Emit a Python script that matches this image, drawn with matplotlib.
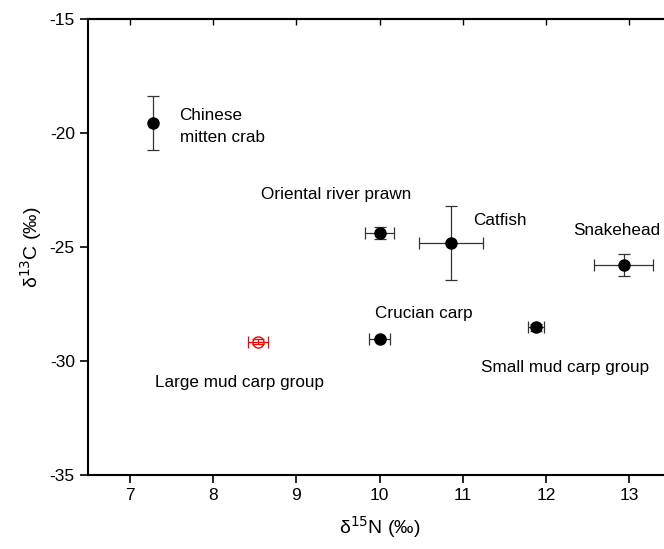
import numpy as np
import matplotlib.pyplot as plt
import matplotlib as mpl

mpl.rcParams['font.family'] = ['Liberation Sans', 'DejaVu Sans']
mpl.rcParams['font.size'] = 12
mpl.rcParams['axes.unicode_minus'] = False

# Данные: δ15N, δ13C и погрешности
names = ["Chinese\nmitten crab", "Oriental river prawn", "Catfish", "Snakehead",
         "Crucian carp", "Small mud carp group"]
d15n = [7.28, 10.00, 10.86, 12.93, 10.00, 11.88]
d13c = [-19.56, -24.39, -24.84, -25.79, -29.05, -28.52]
xerr = [0.0, 0.17, 0.38, 0.35, 0.13, 0.10]
yerr = [1.2, 0.28, 1.62, 0.5, 0.05, 0.15]
label_x = [7.6, 8.58, 11.12, 12.33, 9.95, 11.22]
label_y = [-19.7, -22.7, -23.82, -24.26, -27.9, -30.3]

large_name = "Large mud carp group"
large_x, large_y = 8.54, -29.15
large_xerr, large_yerr = 0.12, 0.12
large_lx, large_ly = 7.3, -30.95

fig = plt.figure(figsize=(6.64, 5.49), dpi=100)
# оси шире фигуры - правый край обрезан, как в оригинале
ax = fig.add_axes([88/664, 1 - 475/549, 583/664, 456/549])

ax.errorbar(d15n, d13c, xerr=xerr, yerr=yerr, fmt='o', color='k',
            ms=8, elinewidth=0.9, capsize=4, capthick=0.9, ecolor='#333333')
ax.errorbar([large_x], [large_y], xerr=[large_xerr], yerr=[large_yerr], fmt='o',
            mfc='none', mec='red', color='red', ms=8, elinewidth=0.9,
            capsize=4, capthick=0.9)

for n, lx, ly in zip(names, label_x, label_y):
    ax.text(lx, ly, n, ha='left', va='center', fontsize=12.3, linespacing=1.6)
ax.text(large_lx, large_ly, large_name, ha='left', va='center', fontsize=12.3)

ax.set_xlim(6.5, 13.5)
ax.set_ylim(-35, -15)
ax.set_xticks([7, 8, 9, 10, 11, 12, 13])
ax.set_yticks([-35, -30, -25, -20, -15])

for s in ax.spines.values():
    s.set_linewidth(1.5)
ax.tick_params(axis='both', which='major', direction='out', length=6, width=1.2,
               labelsize=12.5, top=False, right=False)

# верхние риски внутрь
top = ax.secondary_xaxis('top')
top.set_xticks([7, 8, 9, 10, 11, 12, 13])
top.tick_params(direction='in', length=4, width=1, labeltop=False)
top.spines['top'].set_linewidth(1.5)

ax.set_xlabel(r"δ$^{15}$N (‰)", fontsize=14, labelpad=8)
ax.set_ylabel(r"δ$^{13}$C (‰)", fontsize=14, labelpad=4)

plt.savefig('out.png', dpi=100)
